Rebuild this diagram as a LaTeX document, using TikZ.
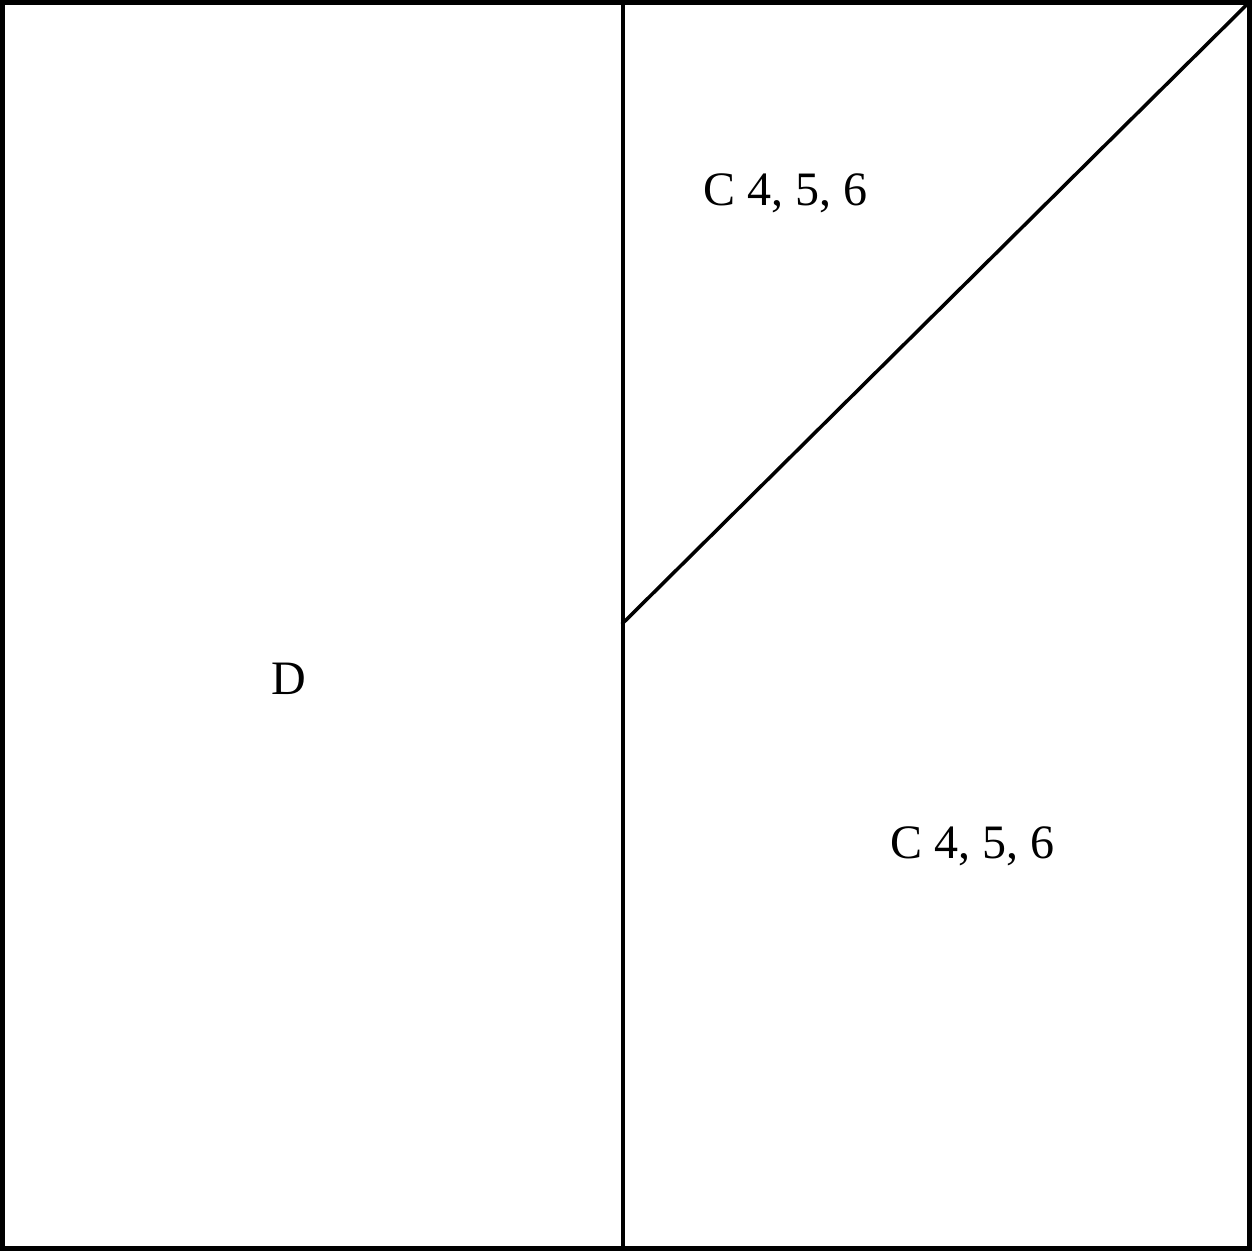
\documentclass[tikz,border=0pt]{standalone}
\usepackage{fontspec}
\setmainfont{Liberation Serif}
\usepackage{tikz}
\usetikzlibrary{positioning}

\tikzset{
    wall/.style={line width=3.5pt, line cap=rect},
    zone/.style={font=\fontsize{48}{56}\selectfont, inner sep=0pt}
}

\begin{document}
\begin{tikzpicture}[x=1pt, y=1pt]
        \useasboundingbox (0,0) rectangle (1252,1251);
        \fill[white] (0,0) rectangle (1252,1251);
        % outer frame
        \draw[line width=4.5pt] (2.5,2.5) rectangle (1249.5,1248.5);
        % split
        \coordinate (top) at (623,1249);
        \coordinate (bot) at (623,2);
        \coordinate (knee) at (623,628);
        \coordinate (corner) at (1249.5,1249);
        \draw[wall] (bot) -- (top);
        \draw[wall] (knee) -- (corner);
        \node[zone] (d) at (289,572) {D};
        \node[zone] (c1) at (785,1058) {C 4, 5, 6};
        \node[zone] (c2) at (972,405) {C 4, 5, 6};
    \end{tikzpicture}
\end{document}
